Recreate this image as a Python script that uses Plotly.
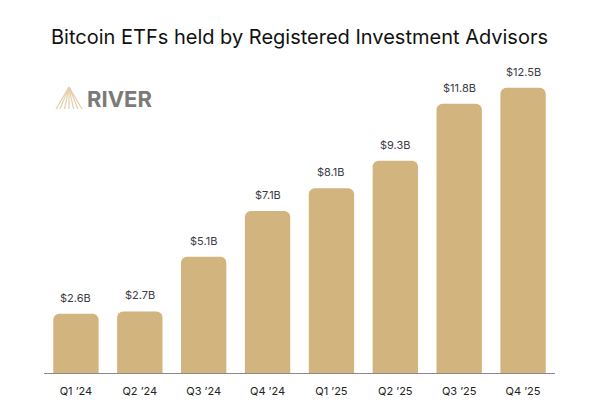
import plotly.graph_objects as go

quarters = ["Q1 ’24", "Q2 ’24", "Q3 ’24", "Q4 ’24", "Q1 ’25", "Q2 ’25", "Q3 ’25", "Q4 ’25"]
values = [2.6, 2.7, 5.1, 7.1, 8.1, 9.3, 11.8, 12.5]
labels = ["$2.6B", "$2.7B", "$5.1B", "$7.1B", "$8.1B", "$9.3B", "$11.8B", "$12.5B"]

GOLD = "#D2B47F"
FONT = "Inter, Roboto, sans-serif"
W, H = 600, 416
ml, mr, mt, mb = 44, 45, 65, 43

fig = go.Figure()
fig.add_trace(go.Bar(
    x=quarters, y=values, marker=dict(color=GOLD, cornerradius=6, line=dict(width=0)),
    width=0.71, hoverinfo="skip",
))

for q, v, t in zip(quarters, values, labels):
    fig.add_annotation(x=q, y=v, text=t, showarrow=False, yanchor="bottom", yshift=7,
                       font=dict(family=FONT, size=11, color="#3a3b45"))

fig.add_annotation(xref="paper", yref="paper", x=0.5, y=1, yshift=28,
                   text="Bitcoin ETFs held by Registered Investment Advisors",
                   showarrow=False, xanchor="center", yanchor="middle",
                   font=dict(family=FONT, size=20, color="#111"))

# RIVER logo (decorative)
def px(xp): return (xp - ml) / (W - ml - mr)
def py(yp): return (H - mb - yp) / (H - mt - mb)

fig.add_annotation(xref="paper", yref="paper", x=px(85), y=py(99), text="<b>RIVER</b>", showarrow=False,
                   xanchor="left", yanchor="middle",
                   font=dict(family=FONT, size=22, color="#7a7a7a"))
apex = (69, 87)
for bx in [56, 60, 64.5, 69, 73.5, 78, 82]:
    fig.add_shape(type="line", xref="paper", yref="paper", x0=px(apex[0]), y0=py(apex[1]), x1=px(bx), y1=py(109),
                  line=dict(color="#E3CFA8", width=1.2))

fig.update_layout(
    width=W, height=H, margin=dict(l=ml, r=mr, t=mt, b=mb),
    plot_bgcolor="white", paper_bgcolor="white", showlegend=False,
    xaxis=dict(showgrid=False, showline=True, linecolor="#8a8a8a", linewidth=1.2, ticks="",
               ticklabelstandoff=8,
               tickfont=dict(family=FONT, size=11, color="#222"), range=[-0.5, 7.5]),
    yaxis=dict(range=[0, 13.5], visible=False, showgrid=False, zeroline=False),
)

fig.write_html("out.html", config={"displayModeBar": False},
               post_script="document.body.style.margin='0';")
